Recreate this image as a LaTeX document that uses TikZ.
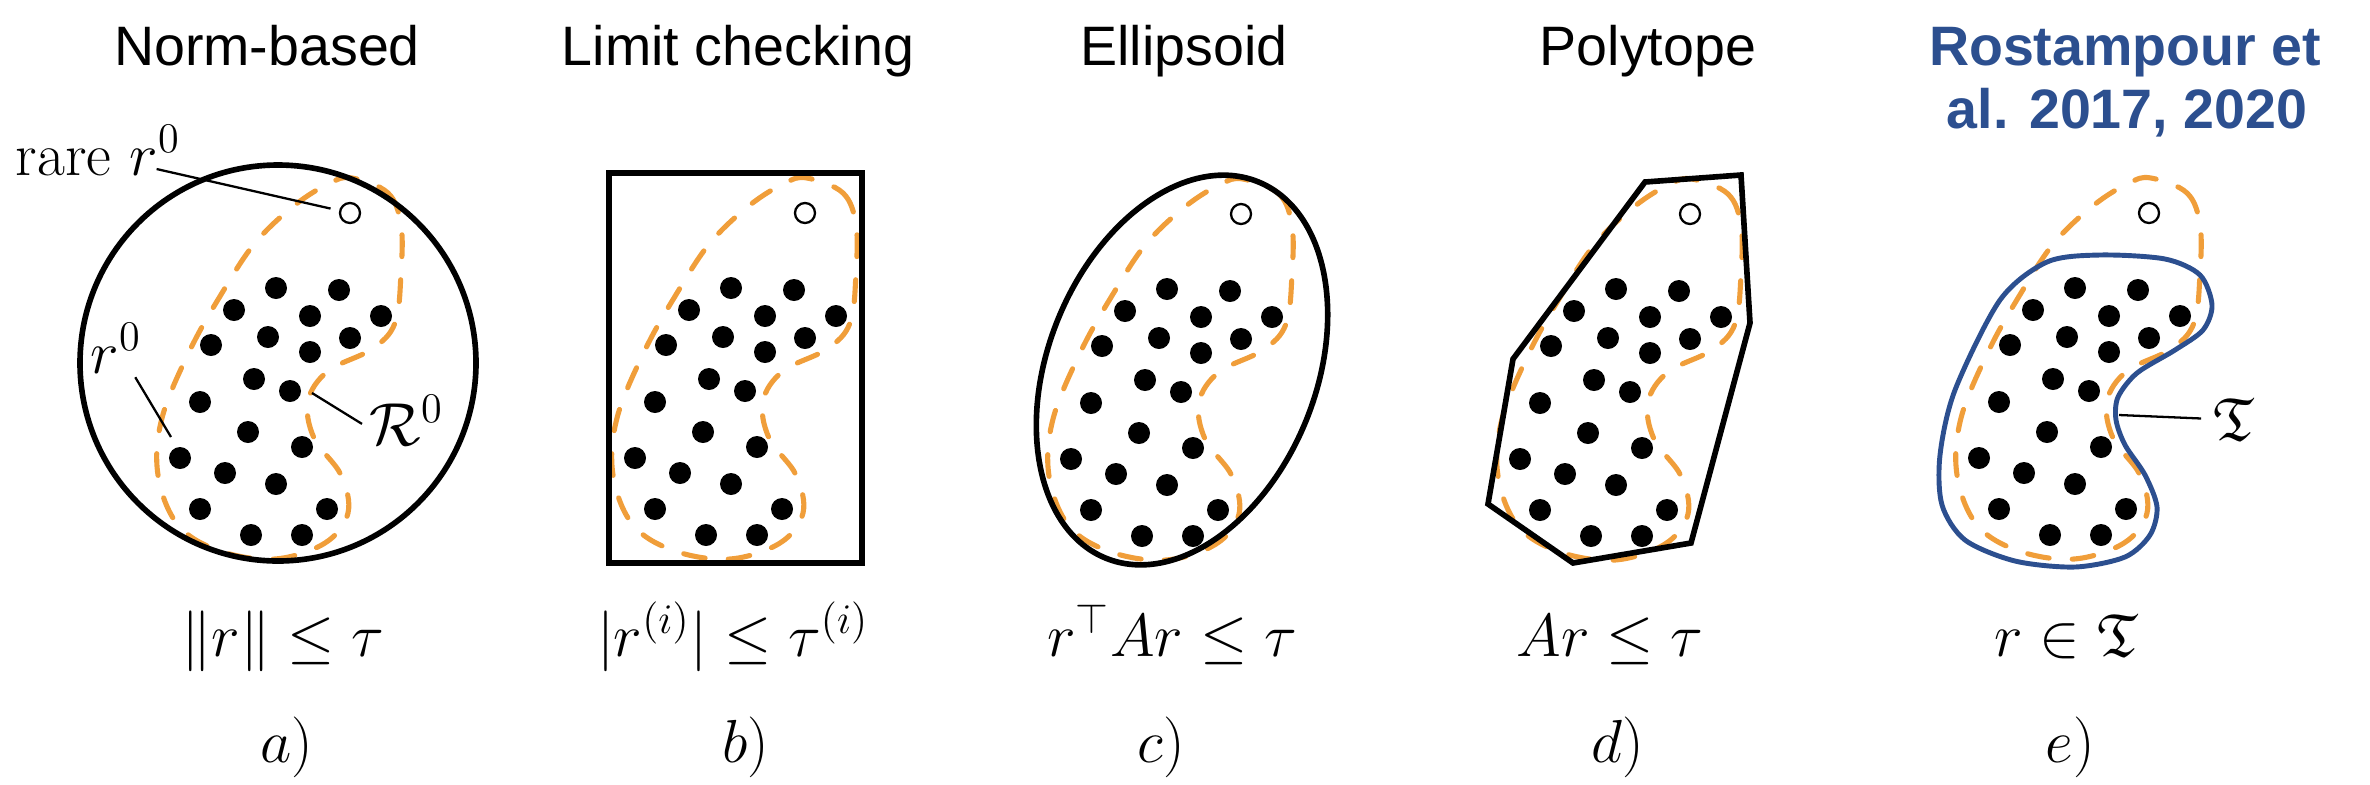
\documentclass[tikz,border=0pt]{standalone}
\usepackage{amssymb}
\usepackage{fontspec}
\newfontfamily\headfont{Liberation Sans}
\definecolor{regionorange}{RGB}{240,158,58}
\definecolor{tblue}{RGB}{44,79,143}

% residual samples, the rare one and the dashed region around them
\newcommand{\residuals}[2]{%
  \begin{scope}[shift={#1}]
    \foreach \ux/\uy in {-74/75, -11/77, -116/97, -40/103, 31/103, -139/132, -82/124,
        0/125, -40/139, -96/166, -60/178, -150/189, -102/219, -48/234, -170/245,
        -125/260, -74/271, -150/296, -23/296, -99/322, -48/322}
      \fill (\ux,\uy) circle [radius=11];
    \draw[region] plot[smooth cycle, tension=0.6] coordinates {(2,-35) (38,-20) (51,12)
        (51,60) (45,110) (22,136) (-22,158) (-42,188) (-36,225) (-9,262) (-2,300)
        (-25,330) (-75,346) (-130,338) (-172,312) (-192,262) (-188,205) (-160,137)
        (-128,80) (-95,30) (-55,-8) (-20,-30)};
    \node[rarept] (#2) at (0,0) {};
  \end{scope}}

\begin{document}
\begin{tikzpicture}[x=0.01cm, y=-0.01cm,
    heading/.style={font=\headfont\fontsize{15.8}{18}\selectfont, anchor=base, inner sep=0pt},
    cite/.style={heading, text=tblue, font=\headfont\bfseries\fontsize{15.8}{18}\selectfont},
    cond/.style={font=\fontsize{17.28}{20}\selectfont, anchor=base, inner sep=0pt},
    annot/.style={font=\fontsize{17.28}{20}\selectfont, anchor=base west, inner sep=0pt},
    bound/.style={draw=black, line width=1.6pt},
    region/.style={draw=regionorange, line width=1.45pt, dash pattern=on 6.2pt off 6.6pt, line cap=round},
    rarept/.style={circle, draw, line width=0.65pt, minimum size=0.2cm, inner sep=0pt},
    leader/.style={draw, line width=0.65pt}
]
\useasboundingbox (0,0) rectangle (2370,784);

% headings
\node[heading] (norm-h) at (267,65) {Norm-based};
\node[heading] (limit-h) at (738,65) {Limit checking};
\node[heading] (ellip-h) at (1184,65) {Ellipsoid};
\node[heading] (poly-h) at (1648,65) {Polytope};
\node[cite] (ros-h) at (2125,65) {Rostampour et};
\node[cite] (ros-h2) at (2127,128) {al. 2017, 2020};

% a) norm-based
\residuals{(350,213)}{rare-a}
\draw[bound] (278,363) circle [radius=198];
\node[annot] (rare-l) at (15,175) {rare $r^0$};
\node[annot] (r0-l) at (90,373) {$r^0$};
\node[annot] (R0-l) at (369,445) {$\mathcal{R}^0$};
\coordinate (r0-end) at (171,437);
\coordinate (R0-end) at (312,393);
\draw[leader, shorten >=2.5pt] ([xshift=-7pt, yshift=1.7pt]rare-l.base east) -- (rare-a);
\draw[leader] ([xshift=-2pt, yshift=-1pt]r0-l.south east) -- (r0-end);
\draw[leader] ([xshift=-2pt, yshift=-1pt]R0-l.west) -- (R0-end);

% b) limit checking
\residuals{(805,213)}{rare-b}
\draw[bound] (609,173) rectangle (862,563);

% c) ellipsoid
\residuals{(1241,214)}{rare-c}
\draw[bound, rotate around={68:(1182,370)}] (1182,370) ellipse [x radius=203, y radius=134];

% d) polytope
\residuals{(1690,214)}{rare-d}
\draw[bound] (1645,182) -- (1741,175) -- (1750,323) -- (1691,543) -- (1573,563)
    -- (1488,504) -- (1513,359) -- cycle;

% e) learned set
\residuals{(2149,213)}{rare-e}
\draw[bound, draw=tblue, line width=1.4pt] plot[smooth cycle] coordinates {(2000,300)
    (2047,262) (2100,255) (2165,259) (2200,275) (2212,305) (2203,330) (2175,350)
    (2137,373) (2118,397) (2116,420) (2125,445) (2145,475) (2157,507) (2150,535)
    (2125,557) (2075,567) (2015,561) (1965,540) (1942,505) (1940,455) (1955,390)};
\node[annot] (T-l) at (2213,440) {$\mathfrak{T}$};
\coordinate (T-tip) at (2119,415);
\draw[leader, shorten >=3.4pt] (T-tip) -- (T-l.west);

% conditions and panel tags
\node[cond] (norm-c) at (283,656) {$\|r\| \le \tau$};
\node[cond] (limit-c) at (733,656) {$|r^{(i)}| \le \tau^{(i)}$};
\node[cond] (ellip-c) at (1172,656) {$r^\top A r \le \tau$};
\node[cond] (poly-c) at (1610,656) {$Ar \le \tau$};
\node[cond] (ros-c) at (2066,656) {$r \in \mathfrak{T}$};
\node[cond] (norm-t) at (287,762) {$a)$};
\node[cond] (limit-t) at (746,762) {$b)$};
\node[cond] (ellip-t) at (1161,762) {$c)$};
\node[cond] (poly-t) at (1618,762) {$d)$};
\node[cond] (ros-t) at (2070,762) {$e)$};
\end{tikzpicture}
\end{document}
